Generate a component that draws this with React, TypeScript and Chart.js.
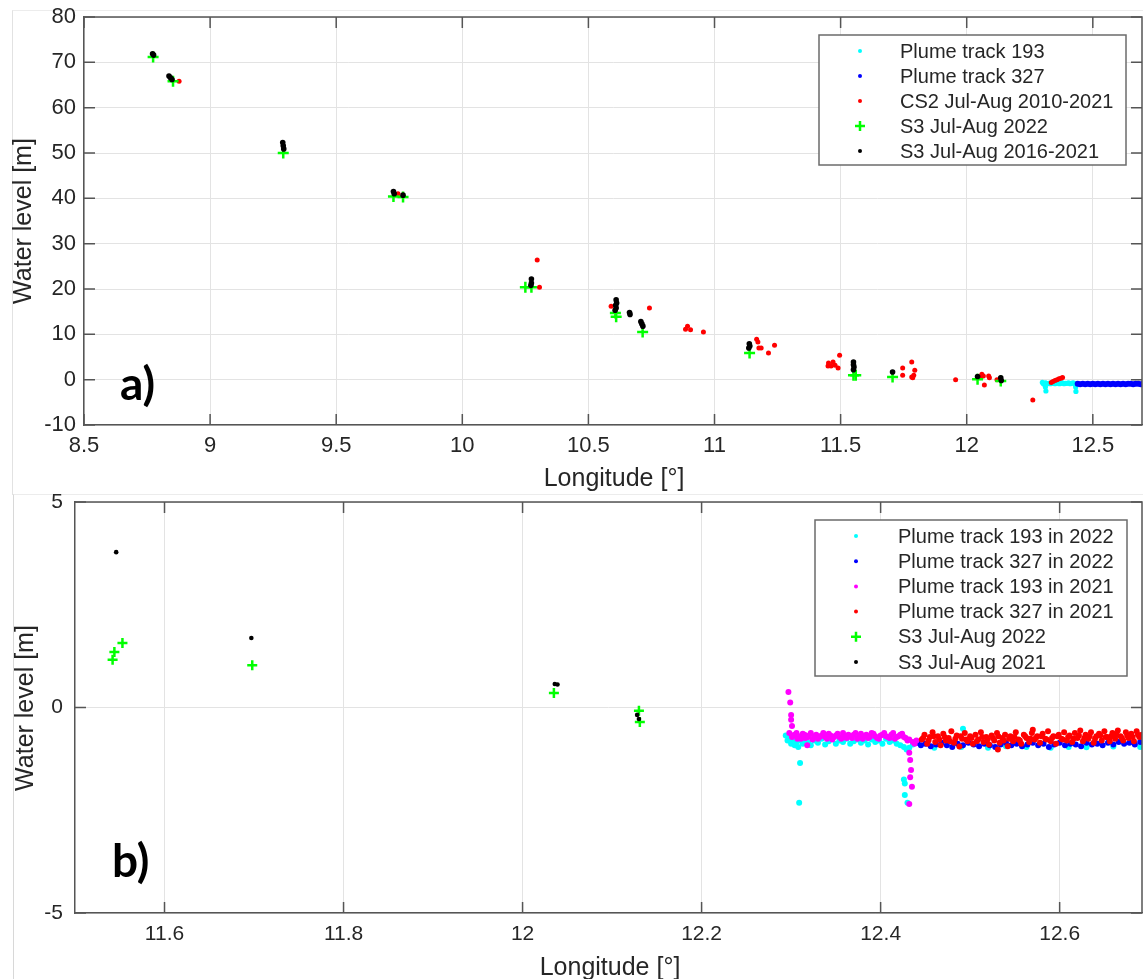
import React, { useEffect, useRef } from 'react';
import { Chart, registerables } from 'chart.js';
Chart.register(...registerables);

type P = [number, number];

// ---------------- Panel a data ----------------
const A_X_TICKS = [8.5, 9, 9.5, 10, 10.5, 11, 11.5, 12, 12.5];
const A_Y_TICKS = [-10, 0, 10, 20, 30, 40, 50, 60, 70, 80];

const A_PLUME_193: P[] = [
  [12.300, -0.6], [12.304, -0.9], [12.308, -1.0], [12.312, -0.7], [12.316, -0.8], [12.320, -0.9],
  [12.326, -0.8], [12.332, -0.9], [12.338, -0.7], [12.344, -0.8], [12.350, -0.9], [12.356, -0.8],
  [12.362, -0.7], [12.368, -0.9], [12.374, -0.8], [12.380, -0.7], [12.386, -0.9], [12.392, -0.8],
  [12.398, -0.8], [12.404, -0.7], [12.410, -0.9], [12.416, -0.8], [12.422, -0.7], [12.428, -0.9],
  [12.434, -1.0], [12.312, -1.6], [12.314, -2.5], [12.432, -1.6], [12.433, -2.6],
];
const A_PLUME_327: P[] = [
  [12.440, -0.9], [12.450, -1.0], [12.460, -0.9], [12.470, -1.0], [12.480, -0.9], [12.490, -1.0],
  [12.500, -0.9], [12.510, -1.0], [12.520, -0.9], [12.530, -1.0], [12.540, -0.9], [12.550, -1.0],
  [12.560, -0.9], [12.570, -1.0], [12.580, -0.9], [12.590, -1.0], [12.600, -0.9], [12.610, -1.0],
  [12.620, -0.9], [12.630, -1.0], [12.640, -0.9], [12.650, -0.9], [12.660, -1.0], [12.670, -0.9],
  [12.680, -0.9], [12.690, -1.0], [12.700, -0.9],
];
const A_CS2: P[] = [
  [8.877, 65.8], [9.745, 41.0], [10.297, 26.4], [10.306, 20.4], [10.590, 16.2], [10.742, 15.8],
  [10.885, 11.1], [10.893, 11.8], [10.905, 11.0], [10.956, 10.5], [11.167, 8.9], [11.172, 8.3],
  [11.176, 7.0], [11.185, 7.0], [11.214, 5.9], [11.238, 7.6], [11.452, 3.7], [11.470, 3.9],
  [11.462, 3.0], [11.490, 2.6], [11.496, 5.4], [11.450, 3.0], [11.478, 3.2], [11.746, 2.6],
  [11.746, 1.0], [11.782, 3.9], [11.794, 2.1], [11.786, 0.4], [11.790, 1.0], [11.782, 0.6],
  [11.956, 0.0], [12.060, 1.2], [12.066, 0.8], [12.070, -1.2], [12.090, 0.4], [12.087, 0.8],
  [12.120, 0.0], [12.052, 0.5], [12.262, -4.5], [12.335, -0.6], [12.342, -0.4], [12.350, -0.2],
  [12.358, 0.0], [12.366, 0.2], [12.374, 0.3], [12.380, 0.5],
];
const A_S3_2022: P[] = [
  [8.774, 71.2], [8.853, 65.8], [9.290, 50.0], [9.727, 40.4], [9.765, 40.3], [10.250, 20.4],
  [10.274, 20.4], [10.607, 14.7], [10.610, 13.9], [10.715, 10.5], [11.139, 5.9], [11.551, 1.0],
  [11.560, 1.0], [11.706, 0.6], [12.043, 0.1], [12.135, -0.3],
];
const A_S3_HIST: P[] = [
  [8.772, 71.9], [8.776, 71.6], [8.837, 67.0], [8.843, 66.6], [8.849, 66.2], [9.288, 52.3],
  [9.290, 51.6], [9.292, 50.9], [9.727, 41.5], [9.730, 41.0], [9.765, 40.7], [10.274, 22.2],
  [10.274, 21.3], [10.272, 20.8], [10.610, 17.6], [10.612, 16.9], [10.608, 16.4], [10.610, 15.8],
  [10.606, 15.3], [10.663, 14.8], [10.665, 14.4], [10.708, 12.8], [10.712, 12.3], [10.716, 11.8],
  [11.138, 7.9], [11.140, 7.4], [11.136, 7.0], [11.551, 3.9], [11.551, 3.3], [11.553, 2.8],
  [11.551, 2.2], [11.706, 1.7], [12.043, 0.7], [12.135, 0.4], [12.137, -0.2],
];

// ---------------- Panel b data ----------------
const B_X_TICKS = [11.6, 11.8, 12, 12.2, 12.4, 12.6];
const B_Y_TICKS = [-5, 0, 5];

const B_PLUME_193_2022: P[] = [
  [12.294, -0.68], [12.296, -0.80], [12.298, -0.74], [12.300, -0.88], [12.302, -0.78], [12.304, -0.92],
  [12.306, -0.84], [12.308, -0.96], [12.310, -0.80], [12.313, -0.88], [12.316, -0.78], [12.319, -0.86],
  [12.322, -0.92], [12.326, -0.80], [12.330, -0.86], [12.334, -0.76], [12.338, -0.90], [12.342, -0.82],
  [12.346, -0.76], [12.350, -0.88], [12.354, -0.80], [12.358, -0.84], [12.362, -0.76], [12.366, -0.88],
  [12.370, -0.82], [12.374, -0.78], [12.378, -0.86], [12.382, -0.80], [12.386, -0.90], [12.390, -0.78],
  [12.394, -0.84], [12.398, -0.80], [12.402, -0.88], [12.406, -0.76], [12.410, -0.84], [12.414, -0.80],
  [12.418, -0.88], [12.422, -0.92], [12.426, -0.96], [12.429, -1.02], [12.432, -0.98], [12.436, -0.90],
  [12.310, -1.35], [12.309, -2.32], [12.427, -1.85], [12.427, -2.13], [12.430, -2.32], [12.426, -1.75],
  [12.460, -0.98], [12.490, -0.96], [12.492, -0.52], [12.520, -0.98], [12.540, -0.94], [12.563, -0.96],
  [12.590, -0.98], [12.610, -0.96], [12.630, -0.97], [12.660, -0.95], [12.690, -0.96],
];
const B_PLUME_327_2022: P[] = [
  [12.441, -0.86], [12.445, -0.92], [12.450, -0.88], [12.456, -0.94], [12.462, -0.90], [12.468, -0.86],
  [12.474, -0.92], [12.480, -0.96], [12.486, -0.88], [12.492, -0.92], [12.498, -0.86], [12.504, -0.90],
  [12.510, -0.94], [12.516, -0.88], [12.522, -0.92], [12.528, -0.96], [12.534, -0.90], [12.540, -0.86],
  [12.546, -0.92], [12.552, -0.88], [12.558, -0.94], [12.564, -0.90], [12.570, -0.86], [12.576, -0.92],
  [12.582, -0.88], [12.588, -0.96], [12.594, -0.90], [12.600, -0.86], [12.606, -0.92], [12.612, -0.88],
  [12.618, -0.90], [12.624, -0.94], [12.630, -0.86], [12.636, -0.90], [12.642, -0.88], [12.648, -0.92],
  [12.654, -0.86], [12.660, -0.90], [12.666, -0.84], [12.672, -0.88], [12.678, -0.86], [12.684, -0.90],
  [12.690, -0.84], [12.696, -0.88], [12.700, -0.86],
];
const B_PLUME_193_2021: P[] = [
  [12.297, 0.38], [12.299, 0.12], [12.300, -0.18], [12.300, -0.30], [12.301, -0.45],
  [12.298, -0.62], [12.301, -0.72], [12.304, -0.66], [12.307, -0.76], [12.310, -0.70], [12.313, -0.64],
  [12.316, -0.74], [12.318, -0.92], [12.320, -0.68], [12.324, -0.78], [12.328, -0.66], [12.332, -0.72],
  [12.336, -0.62], [12.340, -0.76], [12.344, -0.68], [12.348, -0.72], [12.352, -0.64], [12.356, -0.76],
  [12.360, -0.70], [12.364, -0.66], [12.368, -0.74], [12.372, -0.62], [12.376, -0.70], [12.380, -0.76],
  [12.384, -0.66], [12.388, -0.72], [12.392, -0.64], [12.396, -0.74], [12.400, -0.68], [12.404, -0.62],
  [12.408, -0.72], [12.412, -0.66], [12.416, -0.76], [12.420, -0.70], [12.424, -0.64], [12.428, -0.74],
  [12.432, -0.78], [12.436, -0.84], [12.440, -0.80],
  [12.302, -0.68], [12.306, -0.62], [12.311, -0.76], [12.315, -0.66], [12.319, -0.72], [12.322, -0.62],
  [12.326, -0.70], [12.330, -0.76], [12.334, -0.68], [12.338, -0.72], [12.342, -0.64], [12.346, -0.78],
  [12.350, -0.68], [12.354, -0.72], [12.358, -0.62], [12.362, -0.74], [12.366, -0.70], [12.370, -0.66],
  [12.374, -0.76], [12.378, -0.64], [12.382, -0.70], [12.386, -0.74], [12.390, -0.62], [12.394, -0.70],
  [12.398, -0.76], [12.402, -0.66], [12.406, -0.70], [12.410, -0.74], [12.414, -0.62], [12.418, -0.72],
  [12.422, -0.66], [12.426, -0.72], [12.430, -0.80], [12.438, -0.88],
  [12.432, -1.10], [12.433, -1.28], [12.434, -1.52], [12.433, -1.70], [12.435, -1.93], [12.432, -2.35],
];
const B_PLUME_327_2021: P[] = [
  [12.446, -0.78], [12.449, -0.66], [12.452, -0.88], [12.455, -0.72], [12.458, -0.60], [12.461, -0.84],
  [12.464, -0.70], [12.467, -0.92], [12.470, -0.64], [12.473, -0.80], [12.476, -0.74], [12.479, -0.58],
  [12.482, -0.86], [12.485, -0.68], [12.488, -0.95], [12.491, -0.76], [12.494, -0.62], [12.497, -0.82],
  [12.500, -0.70], [12.503, -0.88], [12.506, -0.66], [12.509, -0.78], [12.512, -0.60], [12.515, -0.84],
  [12.518, -0.72], [12.521, -0.90], [12.524, -0.68], [12.527, -0.80], [12.530, -0.62], [12.531, -1.02],
  [12.533, -0.86], [12.536, -0.74], [12.539, -0.66], [12.542, -0.94], [12.545, -0.70], [12.548, -0.82],
  [12.551, -0.60], [12.554, -0.78], [12.557, -0.88], [12.560, -0.66], [12.563, -0.74], [12.566, -0.84],
  [12.569, -0.62], [12.570, -0.54], [12.572, -0.78], [12.575, -0.70], [12.578, -0.86], [12.581, -0.64],
  [12.584, -0.76], [12.587, -0.58], [12.590, -0.82], [12.593, -0.70], [12.596, -0.88], [12.599, -0.66],
  [12.602, -0.76], [12.605, -0.60], [12.608, -0.80], [12.611, -0.68], [12.614, -0.84], [12.617, -0.62],
  [12.620, -0.74], [12.623, -0.56], [12.626, -0.82], [12.629, -0.66], [12.632, -0.76], [12.635, -0.60],
  [12.638, -0.86], [12.641, -0.70], [12.644, -0.64], [12.647, -0.80], [12.650, -0.58], [12.653, -0.72],
  [12.656, -0.82], [12.659, -0.62], [12.662, -0.76], [12.665, -0.56], [12.668, -0.70], [12.671, -0.80],
  [12.674, -0.60], [12.677, -0.74], [12.680, -0.64], [12.683, -0.82], [12.686, -0.58], [12.689, -0.72],
  [12.692, -0.66], [12.695, -0.78], [12.698, -0.62],
  [12.4475, -0.74], [12.4535, -0.80], [12.4595, -0.70], [12.4655, -0.78], [12.4715, -0.72], [12.4775, -0.82],
  [12.4835, -0.76], [12.4895, -0.70], [12.4955, -0.78], [12.5015, -0.74], [12.5075, -0.82], [12.5135, -0.72],
  [12.5195, -0.78], [12.5255, -0.74], [12.5315, -0.70], [12.5375, -0.80], [12.5435, -0.76], [12.5495, -0.72],
  [12.5555, -0.80], [12.5615, -0.70], [12.5675, -0.76], [12.5735, -0.74], [12.5795, -0.70], [12.5855, -0.78],
  [12.5915, -0.74], [12.5975, -0.70], [12.6035, -0.78], [12.6095, -0.72], [12.6155, -0.76], [12.6215, -0.68],
  [12.6275, -0.74], [12.6335, -0.70], [12.6395, -0.76], [12.6455, -0.68], [12.6515, -0.72], [12.6575, -0.70],
  [12.6635, -0.66], [12.6695, -0.74], [12.6755, -0.68], [12.6815, -0.72], [12.6875, -0.66], [12.6935, -0.70],
  [12.6995, -0.68],
];
const B_S3_2022: P[] = [
  [11.553, 1.57], [11.544, 1.35], [11.542, 1.16], [11.698, 1.03], [12.035, 0.35], [12.130, -0.08], [12.131, -0.35],
];
const B_S3_2021: P[] = [
  [11.546, 3.78], [11.697, 1.69], [12.036, 0.57], [12.039, 0.56], [12.128, -0.18], [12.130, -0.28],
];

// ---------------- styling ----------------
const FONT = '"Liberation Sans", Arial, Helvetica, sans-serif';
const TEXT = '#262626';
const AXIS = '#555555';
const GRID = '#e3e3e3';

type Series = { label: string; data: P[]; color: string; kind: 'dot' | 'cross'; r: number };

const SERIES_A: Series[] = [
  { label: 'Plume track 193', data: A_PLUME_193, color: '#00ffff', kind: 'dot', r: 2.6 },
  { label: 'Plume track 327', data: A_PLUME_327, color: '#0000ff', kind: 'dot', r: 3 },
  { label: 'CS2 Jul-Aug 2010-2021', data: A_CS2, color: '#ff0000', kind: 'dot', r: 2.5 },
  { label: 'S3 Jul-Aug 2022', data: A_S3_2022, color: '#00ff00', kind: 'cross', r: 5.5 },
  { label: 'S3 Jul-Aug 2016-2021', data: A_S3_HIST, color: '#000000', kind: 'dot', r: 2.8 },
];
const SERIES_B: Series[] = [
  { label: 'Plume track 193 in 2022', data: B_PLUME_193_2022, color: '#00ffff', kind: 'dot', r: 3 },
  { label: 'Plume track 327 in 2022', data: B_PLUME_327_2022, color: '#0000ff', kind: 'dot', r: 3 },
  { label: 'Plume track 193 in 2021', data: B_PLUME_193_2021, color: '#ff00ff', kind: 'dot', r: 3 },
  { label: 'Plume track 327 in 2021', data: B_PLUME_327_2021, color: '#ff0000', kind: 'dot', r: 3 },
  { label: 'S3 Jul-Aug 2022', data: B_S3_2022, color: '#00ff00', kind: 'cross', r: 5 },
  { label: 'S3 Jul-Aug 2021', data: B_S3_2021, color: '#000000', kind: 'dot', r: 2.3 },
];

type Spec = {
  w: number; h: number; top: number;
  xMin: number; xMax: number; yMin: number; yMax: number;
  xTicks: number[]; yTicks: number[];
  padTop: number; padRight: number; yAxisW: number; xAxisH: number;
  tickFont: number; yTickPad: number; xTickPad: number;
  xTitle: { x: number; y: number }; yTitle: { x: number; y: number }; titleFont: number;
  label: { text: string; x: number; y: number; size: number };
  legend: { x: number; y: number; w: number; h: number; row0: number; step: number; mx: number; tx: number; font: number };
  series: Series[];
};

// The reference image crops both panels a few pixels before their 12.7° right limit.
const SPEC_A: Spec = {
  w: 1143, h: 494, top: 0,
  xMin: 8.5, xMax: 12.695, yMin: -10, yMax: 80,
  xTicks: A_X_TICKS, yTicks: A_Y_TICKS,
  padTop: 17, padRight: 1, yAxisW: 84, xAxisH: 69,
  tickFont: 22, yTickPad: 8, xTickPad: 8,
  xTitle: { x: 614, y: 486 }, yTitle: { x: 31, y: 221 }, titleFont: 25,
  label: { text: 'a)', x: 120, y: 400, size: 46 },
  legend: { x: 819, y: 35, w: 307, h: 130, row0: 51, step: 25, mx: 860, tx: 900, font: 20 },
  series: SERIES_A,
};
const SPEC_B: Spec = {
  w: 1143, h: 489, top: 490,
  xMin: 11.5, xMax: 12.692, yMin: -5, yMax: 5,
  xTicks: B_X_TICKS, yTicks: B_Y_TICKS,
  padTop: 12, padRight: 1, yAxisW: 75, xAxisH: 66,
  tickFont: 21, yTickPad: 12, xTickPad: 9,
  xTitle: { x: 610, y: 485 }, yTitle: { x: 33, y: 218 }, titleFont: 25,
  label: { text: 'b)', x: 112, y: 387, size: 46 },
  legend: { x: 815, y: 30, w: 312, h: 156, row0: 46, step: 25.2, mx: 856, tx: 898, font: 20 },
  series: SERIES_B,
};

function makeDecor(spec: Spec) {
  return {
    id: 'decor',
    afterDraw(chart: any) {
      const ctx: CanvasRenderingContext2D = chart.ctx;
      const { left, right, top, bottom } = chart.chartArea;
      const xs = chart.scales.x;
      const ys = chart.scales.y;
      ctx.save();
      // box top/right
      ctx.strokeStyle = AXIS;
      ctx.lineWidth = 1.5;
      ctx.beginPath();
      ctx.moveTo(left, top); ctx.lineTo(right, top); ctx.lineTo(right, bottom);
      ctx.stroke();
      // inward tick marks
      const TL = 11;
      ctx.beginPath();
      for (const v of spec.xTicks) {
        const px = xs.getPixelForValue(v);
        ctx.moveTo(px, bottom); ctx.lineTo(px, bottom - TL);
        ctx.moveTo(px, top); ctx.lineTo(px, top + TL);
      }
      for (const v of spec.yTicks) {
        const py = ys.getPixelForValue(v);
        ctx.moveTo(left, py); ctx.lineTo(left + TL, py);
        ctx.moveTo(right, py); ctx.lineTo(right - TL, py);
      }
      ctx.stroke();
      // axis titles
      ctx.fillStyle = TEXT;
      ctx.font = `${spec.titleFont}px ${FONT}`;
      ctx.textAlign = 'center';
      ctx.textBaseline = 'alphabetic';
      ctx.fillText('Longitude [°]', spec.xTitle.x, spec.xTitle.y);
      ctx.save();
      ctx.translate(spec.yTitle.x, spec.yTitle.y);
      ctx.rotate(-Math.PI / 2);
      ctx.fillText('Water level [m]', 0, 0);
      ctx.restore();
      // panel label
      ctx.fillStyle = '#000';
      ctx.font = `bold ${spec.label.size}px Lato, ${FONT}`;
      ctx.textAlign = 'left';
      ctx.fillText(spec.label.text, spec.label.x, spec.label.y);
      // legend
      const L = spec.legend;
      ctx.fillStyle = '#ffffff';
      ctx.fillRect(L.x, L.y, L.w, L.h);
      ctx.strokeStyle = '#6b6b6b';
      ctx.lineWidth = 1.5;
      ctx.strokeRect(L.x, L.y, L.w, L.h);
      ctx.font = `${L.font}px ${FONT}`;
      ctx.textBaseline = 'middle';
      spec.series.forEach((s, i) => {
        const y = L.row0 + i * L.step;
        if (s.kind === 'cross') {
          ctx.strokeStyle = s.color;
          ctx.lineWidth = 2.5;
          ctx.beginPath();
          ctx.moveTo(L.mx - 5, y); ctx.lineTo(L.mx + 5, y);
          ctx.moveTo(L.mx, y - 5); ctx.lineTo(L.mx, y + 5);
          ctx.stroke();
        } else {
          ctx.fillStyle = s.color;
          ctx.beginPath();
          ctx.arc(L.mx, y, 2, 0, Math.PI * 2);
          ctx.fill();
        }
        ctx.fillStyle = TEXT;
        ctx.fillText(s.label, L.tx, y + 1);
      });
      ctx.restore();
    },
  };
}

function buildChart(canvas: HTMLCanvasElement, spec: Spec) {
  const datasets = spec.series.slice().reverse().map((s) => ({
    label: s.label,
    data: s.data.map(([x, y]) => ({ x, y })),
    showLine: false,
    pointStyle: s.kind === 'cross' ? 'cross' : 'circle',
    pointRadius: s.r,
    pointHoverRadius: s.r,
    pointBackgroundColor: s.color,
    pointBorderColor: s.color,
    pointBorderWidth: s.kind === 'cross' ? 2.5 : 0,
  }));
  const tickFont = { size: spec.tickFont, family: FONT };
  return new Chart(canvas, {
    type: 'scatter',
    data: { datasets } as any,
    options: {
      animation: false,
      responsive: false,
      devicePixelRatio: 1,
      layout: { autoPadding: false, padding: { top: spec.padTop, right: spec.padRight, left: 0, bottom: 0 } },
      plugins: { legend: { display: false }, tooltip: { enabled: false } },
      scales: {
        x: {
          type: 'linear',
          min: spec.xMin,
          max: spec.xMax,
          afterBuildTicks: (s: any) => { s.ticks = spec.xTicks.map((v) => ({ value: v })); },
          afterFit: (s: any) => { s.height = spec.xAxisH; s.paddingLeft = 0; s.paddingRight = 0; },
          grid: { color: GRID, lineWidth: 1, drawTicks: false },
          border: { display: true, color: AXIS, width: 1.5 },
          ticks: {
            autoSkip: false, maxRotation: 0, minRotation: 0, padding: spec.xTickPad,
            color: TEXT, font: tickFont, callback: (v: any) => String(v),
          },
        },
        y: {
          type: 'linear',
          min: spec.yMin,
          max: spec.yMax,
          afterBuildTicks: (s: any) => { s.ticks = spec.yTicks.map((v) => ({ value: v })); },
          afterFit: (s: any) => { s.width = spec.yAxisW; s.paddingTop = 0; s.paddingBottom = 0; },
          grid: { color: GRID, lineWidth: 1, drawTicks: false },
          border: { display: true, color: AXIS, width: 1.5 },
          ticks: {
            autoSkip: false, padding: spec.yTickPad,
            color: TEXT, font: tickFont, callback: (v: any) => String(v),
          },
        },
      },
    } as any,
    plugins: [makeDecor(spec)],
  });
}

function Panel({ spec }: { spec: Spec }) {
  const ref = useRef<HTMLCanvasElement | null>(null);
  useEffect(() => {
    if (!ref.current) return;
    const chart = buildChart(ref.current, spec);
    return () => chart.destroy();
  }, [spec]);
  return (
    <canvas
      ref={ref}
      width={spec.w}
      height={spec.h}
      style={{ position: 'absolute', left: 0, top: spec.top, width: spec.w, height: spec.h }}
    />
  );
}

export default function App() {
  return (
    <div style={{ position: 'absolute', left: 0, top: 0, width: 1143, height: 979, background: '#fff', overflow: 'hidden' }}>
      <div style={{ position: 'absolute', left: 12, top: 10, width: 1140, height: 484, borderLeft: '1px solid #e2e2e2', borderTop: '1px solid #ececec' }} />
      <div style={{ position: 'absolute', left: 13, top: 494, width: 1140, height: 486, borderLeft: '1px solid #d8d8d8', borderTop: '1px solid #ececec' }} />
      <Panel spec={SPEC_A} />
      <Panel spec={SPEC_B} />
    </div>
  );
}
